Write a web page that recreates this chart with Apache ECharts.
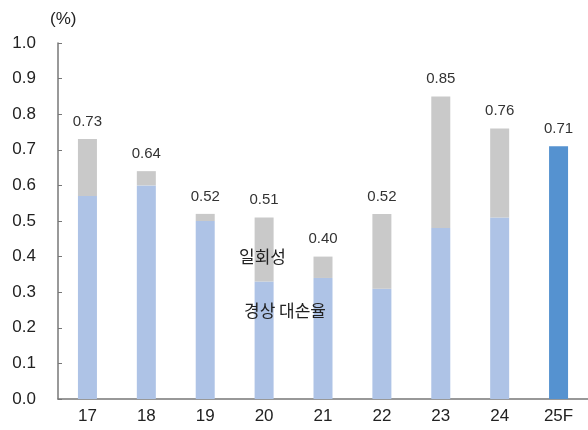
<!DOCTYPE html>
<html>
<head>
<meta charset="utf-8">
<script src="https://cdn.jsdelivr.net/npm/echarts@6/dist/echarts.min.js"></script>
<style>
html, body { margin: 0; padding: 0; background: #fff; }
#chart { width: 588px; height: 430px; }
</style>
</head>
<body>
<div id="chart"></div>
<script>
// 연도별 대손율 (%)
const years = ['17', '18', '19', '20', '21', '22', '23', '24', '25F'];
const recurring = [0.57, 0.60, 0.50, 0.33, 0.34, 0.31, 0.48, 0.51, '-'];
const oneOff = [0.16, 0.04, 0.02, 0.18, 0.06, 0.21, 0.37, 0.25, '-'];
const forecast = ['-', '-', '-', '-', '-', '-', '-', '-', 0.71];
const totals = [0.73, 0.64, 0.52, 0.51, 0.40, 0.52, 0.85, 0.76, 0.71];
const yTicks = [0, 0.1, 0.2, 0.3, 0.4, 0.5, 0.6, 0.7, 0.8, 0.9, 1.0];

const numFont = 'Liberation Sans, Arial, sans-serif';
const krFont = 'Noto Sans CJK KR, sans-serif';

const chart = echarts.init(document.getElementById('chart'));
const topLabel = {
    show: true,
    position: 'top',
    distance: 10,
    color: '#333',
    fontSize: 15,
    fontFamily: numFont,
    formatter: p => totals[p.dataIndex].toFixed(2)
};

chart.setOption({
    animation: false,
    grid: { left: 58, right: 0, top: 43, bottom: 31, containLabel: false },
    xAxis: {
        type: 'category',
        data: years,
        axisLine: { lineStyle: { color: '#777', width: 1.5 } },
        axisTick: { inside: true, length: 4, lineStyle: { color: '#777' } },
        axisLabel: { color: '#222', fontSize: 17, fontFamily: numFont, margin: 9 }
    },
    yAxis: {
        type: 'value',
        min: 0,
        max: yTicks[yTicks.length - 1],
        interval: 0.1,
        splitLine: { show: false },
        axisLine: { show: true, lineStyle: { color: '#777', width: 1.5 } },
        axisTick: { show: true, inside: true, length: 4, lineStyle: { color: '#777' } },
        axisLabel: {
            color: '#222', fontSize: 17, fontFamily: numFont, margin: 22,
            formatter: v => v.toFixed(1)
        }
    },
    graphic: [
        { type: 'text', z: 100, left: 50, top: 11, style: { text: '(%)', fontSize: 17, fontFamily: numFont, fill: '#222' } },
        { type: 'text', z: 100, left: 239, top: 248, style: { text: '일회성', fontSize: 17, fontFamily: krFont, fill: '#222' } },
        { type: 'text', z: 100, left: 244, top: 302, style: { text: '경상 대손율', fontSize: 17, fontFamily: krFont, fill: '#222' } }
    ],
    series: [
        {
            name: '경상 대손율', type: 'bar', stack: 'total', barWidth: 19,
            itemStyle: { color: '#aec3e6' },
            data: recurring
        },
        {
            name: '일회성', type: 'bar', stack: 'total', barWidth: 19,
            itemStyle: { color: '#c9c9c9' },
            label: topLabel,
            data: oneOff
        },
        {
            name: '전망', type: 'bar', stack: 'total', barWidth: 19,
            itemStyle: { color: '#5592d0' },
            label: topLabel,
            data: forecast
        }
    ]
});
</script>
</body>
</html>
